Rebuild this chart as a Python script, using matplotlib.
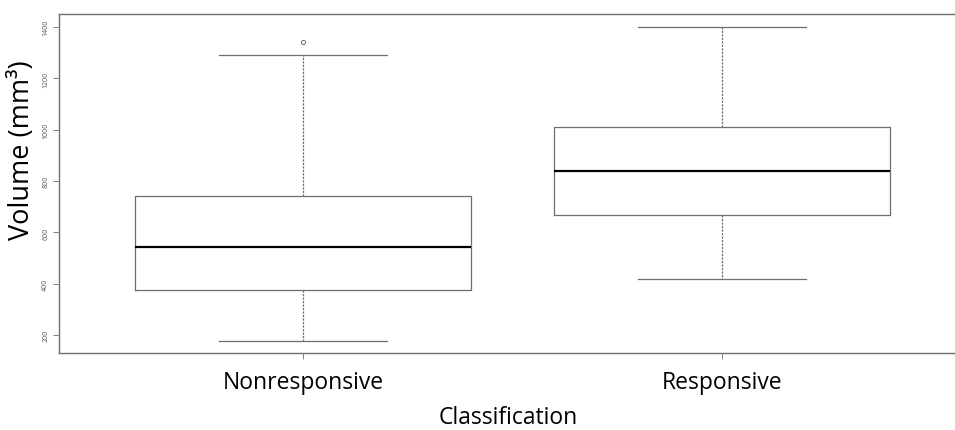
import matplotlib
matplotlib.use("Agg")
import matplotlib.pyplot as plt

categories = ["Nonresponsive", "Responsive"]
whislo = [177, 419]
q1 = [376, 667]
med = [544, 841]
q3 = [743, 1009]
whishi = [1290, 1400]
fliers = [[1341], []]
yticks = [200, 400, 600, 800, 1000, 1200, 1400]

plt.rcParams['font.family'] = ['Open Sans', 'DejaVu Sans']

fig = plt.figure(figsize=(9.55, 4.31), dpi=100)
ax = fig.add_axes([59/955, 1-354/431, (957-59)/955, (354-15)/431])

stats = []
for i in range(2):
    stats.append(dict(whislo=whislo[i], q1=q1[i], med=med[i], q3=q3[i],
                      whishi=whishi[i], fliers=fliers[i], label=categories[i]))

gray = '#6e6e6e'
ax.bxp(stats, positions=[1, 2], widths=0.8, showfliers=True,
       boxprops=dict(color=gray, linewidth=0.9),
       medianprops=dict(color='black', linewidth=1.6),
       whiskerprops=dict(color=gray, linewidth=0.9, linestyle=(0, (1.8, 1))),
       capprops=dict(color=gray, linewidth=0.9),
       flierprops=dict(marker='o', markerfacecolor='none', markeredgecolor=gray,
                       markersize=3, markeredgewidth=0.7),
       capwidths=0.4)

ax.set_xlim(1 - 244/419, 2 + 235/419)
ax.set_ylim(130, 1451)
ax.set_yticks(yticks)
ax.set_yticklabels([str(v) for v in yticks], rotation=90, va='center',
                   fontsize=5, color='#555555')
ax.tick_params(axis='y', length=4, width=0.6, color=gray, pad=3)
ax.tick_params(axis='x', length=4, width=0.6, color=gray, pad=8, labelsize=16.5)
ax.set_xticks([1, 2])
ax.set_xticklabels(categories)
for s in ax.spines.values():
    s.set_color(gray)
    s.set_linewidth(1.0)

ax.set_ylabel("Volume (mm³)", fontsize=19.5)
ax.yaxis.set_label_coords((36 - 59) / 898, (354 - 150) / (354 - 15))
ax.set_xlabel("Classification", fontsize=16.5, labelpad=8)

fig.savefig("out.png", dpi=100)
